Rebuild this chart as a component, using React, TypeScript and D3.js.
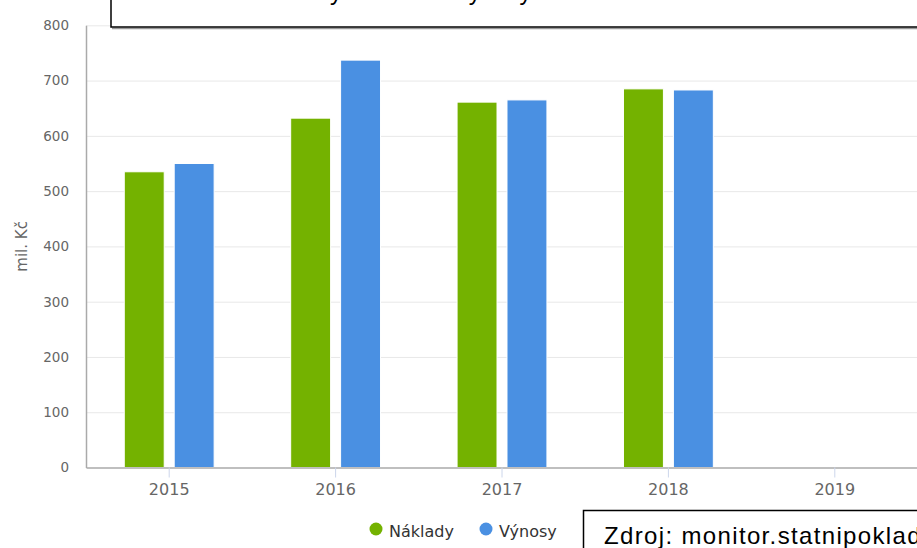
import React, { useEffect, useRef } from 'react';
import * as d3 from 'd3';

const W = 917;
const H = 548;

// data (mil. Kč)
const years = ['2015', '2016', '2017', '2018', '2019'];
const seriesNames = ['Náklady', 'Výnosy'];
const naklady = [535, 632, 661, 685, null];
const vynosy = [550, 737, 665, 683, null];
const yTicks = [0, 100, 200, 300, 400, 500, 600, 700, 800];
const colors = ['#74b200', '#4a90e2'];

const titleText = 'Celkové náklady a celkové výnosy';
const sourceText = 'Zdroj: monitor.statnipokladna.cz';

export default function App() {
  const ref = useRef<SVGSVGElement>(null);

  useEffect(() => {
    drawChart(ref.current as SVGSVGElement);
  }, []);

  return (
    <svg
      ref={ref}
      width={W}
      height={H}
      style={{ position: 'absolute', left: 0, top: 0, background: '#fff', overflow: 'hidden' }}
    />
  );
}

function drawChart(node: SVGSVGElement) {
  const svg = d3.select(node);
  svg.selectAll('*').remove();

  const left = 86;
  const right = 918;
  const top = 25.3;
  const bottom = 467.5;

  const x = d3.scaleBand<string>().domain(years).range([left, right]).padding(0);
  const bw = x.bandwidth();
  const inner = d3
    .scaleBand<string>()
    .domain(seriesNames)
    .range([0.2 * bw, 0.8 * bw])
    .paddingInner(0.2)
    .paddingOuter(0.1);
  const y = d3.scaleLinear().domain([0, 800]).range([bottom, top]);

  // grid
  const grid = svg
    .append('g')
    .attr('transform', `translate(${left},0)`)
    .call(
      d3
        .axisRight(y)
        .tickValues(yTicks.slice(1))
        .tickSize(right - left)
        .tickFormat(() => '')
    );
  grid.select('.domain').remove();
  grid.selectAll('.tick line').attr('stroke', '#e8e8e8').attr('stroke-width', 1);

  // bars
  const rows = years.map((yr, i) => ({ yr, vals: [naklady[i], vynosy[i]] }));
  const groups = svg
    .append('g')
    .selectAll('g')
    .data(rows)
    .enter()
    .append('g')
    .attr('transform', (d) => `translate(${x(d.yr)},0)`);
  groups
    .selectAll('rect')
    .data((d) =>
      d.vals
        .map((v, k) => ({ name: seriesNames[k], v, k }))
        .filter((e) => e.v != null)
    )
    .enter()
    .append('rect')
    .attr('x', (d) => inner(d.name) as number)
    .attr('width', inner.bandwidth())
    .attr('y', (d) => y(d.v as number))
    .attr('height', (d) => bottom - y(d.v as number))
    .attr('fill', (d) => colors[d.k])
    .attr('stroke', '#fff')
    .attr('stroke-width', 1);

  // x axis
  const xAxis = svg
    .append('g')
    .attr('transform', `translate(0,${bottom})`)
    .call(d3.axisBottom(x).tickSize(10).tickSizeOuter(0).tickPadding(6));
  xAxis.select('.domain').attr('stroke', '#aaa').attr('stroke-width', 1.5);
  xAxis.selectAll('.tick line').attr('stroke', '#ccd6eb');
  xAxis
    .selectAll('.tick text')
    .attr('fill', '#666')
    .attr('font-family', 'DejaVu Sans')
    .attr('font-size', 16);

  // y axis
  const yAxis = svg
    .append('g')
    .attr('transform', `translate(${left},0)`)
    .call(d3.axisLeft(y).tickValues(yTicks).tickSize(0).tickSizeOuter(0).tickPadding(17));
  yAxis.select('.domain').attr('stroke', '#aaa').attr('stroke-width', 1.5);
  yAxis
    .selectAll('.tick text')
    .attr('fill', '#666')
    .attr('font-family', 'DejaVu Sans')
    .attr('font-size', 13.5);

  svg
    .append('text')
    .attr('transform', `translate(27,${(top + bottom) / 2}) rotate(-90)`)
    .attr('text-anchor', 'middle')
    .attr('fill', '#666')
    .attr('font-family', 'DejaVu Sans')
    .attr('font-size', 15)
    .text('mil. Kč');

  // legend
  const legendX = [376, 486];
  const lg = svg
    .append('g')
    .selectAll('g')
    .data(seriesNames)
    .enter()
    .append('g')
    .attr('transform', (d, i) => `translate(${legendX[i]},529)`);
  lg.append('circle').attr('r', 6.5).attr('fill', (d, i) => colors[i]);
  lg.append('text')
    .attr('x', 13)
    .attr('y', 7.5)
    .attr('fill', '#333')
    .attr('font-family', 'DejaVu Sans')
    .attr('font-size', 16)
    .text((d) => d);

  // boxed title (mostly cut off at the top)
  svg
    .append('line')
    .attr('x1', 112)
    .attr('x2', W)
    .attr('y1', 28.5)
    .attr('y2', 28.5)
    .attr('stroke', '#999')
    .attr('stroke-width', 1.5);
  svg
    .append('rect')
    .attr('x', 111)
    .attr('y', -20)
    .attr('width', 900)
    .attr('height', 47)
    .attr('fill', '#fff')
    .attr('stroke', '#000')
    .attr('stroke-width', 1.5);
  svg
    .append('text')
    .attr('x', 166)
    .attr('y', -0.5)
    .attr('font-family', 'Liberation Sans')
    .attr('font-size', 24)
    .attr('fill', '#000')
    .text(titleText);

  // source box
  svg
    .append('rect')
    .attr('x', 583.5)
    .attr('y', 510.5)
    .attr('width', 400)
    .attr('height', 100)
    .attr('fill', '#fff')
    .attr('stroke', '#000')
    .attr('stroke-width', 1.5);
  svg
    .append('text')
    .attr('x', 604)
    .attr('y', 544)
    .attr('font-family', 'Liberation Sans')
    .attr('font-size', 24)
    .attr('letter-spacing', 1.35)
    .attr('fill', '#000')
    .text(sourceText);
}
